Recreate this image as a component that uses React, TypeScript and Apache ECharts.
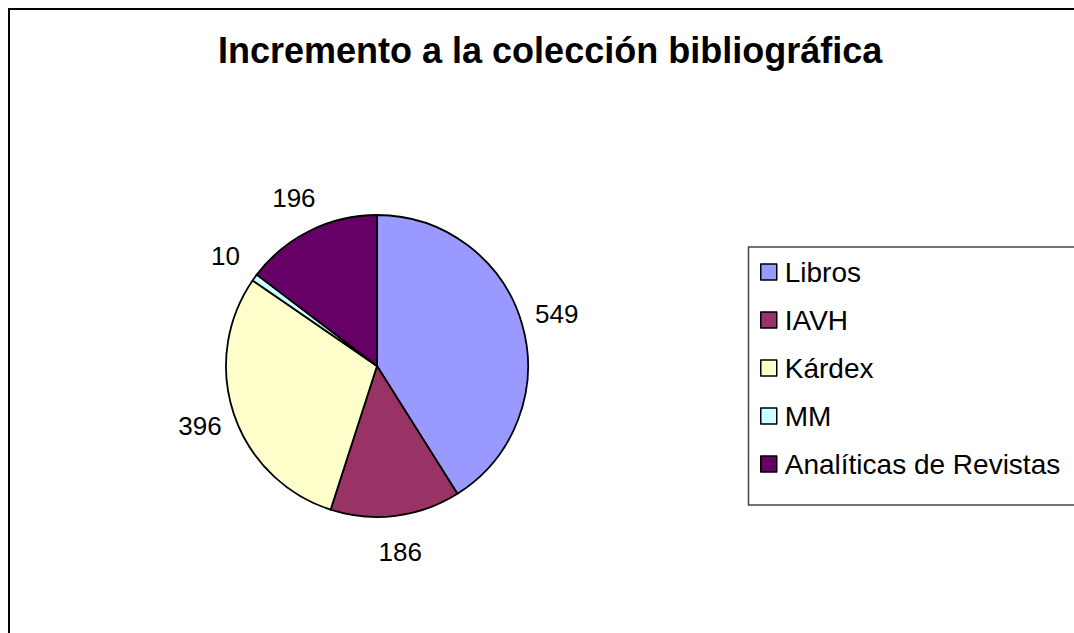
import React, { useEffect, useRef } from "react";
import * as echarts from "echarts";

const titleText = "Incremento a la colección bibliográfica";
const categories = ["Libros", "IAVH", "Kárdex", "MM", "Analíticas de Revistas"];
const values = [549, 186, 396, 10, 196];
const colors = ["#9999FF", "#993366", "#FFFFCC", "#CCFFFF", "#660066"];

const FONT = "'Liberation Sans', Arial, sans-serif";

export default function App() {
  const ref = useRef<HTMLDivElement>(null);

  useEffect(() => {
    if (!ref.current) return;
    const chart = echarts.init(ref.current, undefined, { renderer: "svg" });
    const mainData = categories.map((name, i) => ({
      name,
      value: values[i],
      itemStyle: { color: colors[i] },
    }));
    const labelData = categories.map((name, i) => ({
      name,
      value: values[i],
    }));
    chart.setOption({
      animation: false,
      backgroundColor: "#ffffff",
      title: {
        text: titleText,
        left: 213,
        top: 27,
        textStyle: {
          fontFamily: FONT,
          fontSize: 36,
          fontWeight: "bold",
          color: "#000",
        },
      },
      legend: {
        orient: "vertical",
        left: 748,
        top: 247,
        padding: [11, 12, 26, 12],
        borderWidth: 0,
        itemWidth: 16,
        itemHeight: 16,
        itemGap: 20,
        icon: "rect",
        data: categories.map((name, i) => ({
          name,
          itemStyle: { color: colors[i], borderColor: "#000", borderWidth: 1.5 },
        })),
        textStyle: {
          fontFamily: FONT,
          fontSize: 28,
          lineHeight: 28,
          color: "#000",
          padding: [0, 0, 0, 3],
        },
        selectedMode: false,
      },
      graphic: [
        {
          type: "polyline",
          shape: { points: [[1074, 9], [9, 9], [9, 633]] },
          style: { fill: "none", stroke: "#000", lineWidth: 2 },
          silent: true,
          z: 100,
        },
        {
          type: "polyline",
          shape: { points: [[1074, 247], [748.5, 247], [748.5, 505], [1074, 505]] },
          style: { fill: "none", stroke: "#444", lineWidth: 1.5 },
          silent: true,
          z: 100,
        },
      ],
      series: [
        {
          type: "pie",
          center: [377, 366],
          radius: 151,
          startAngle: 90,
          clockwise: true,
          label: { show: false },
          labelLine: { show: false },
          itemStyle: { borderColor: "#000", borderWidth: 1.8 },
          emphasis: { disabled: true },
          data: mainData,
        },
        {
          type: "pie",
          center: [377, 366],
          radius: [151, 217],
          startAngle: 90,
          clockwise: true,
          silent: true,
          legendHoverLink: false,
          itemStyle: { color: "rgba(0,0,0,0)", borderWidth: 0 },
          label: {
            show: true,
            position: "inside",
            formatter: "{c}",
            fontFamily: FONT,
            fontSize: 26,
            color: "#000",
            rotate: 0,
          },
          labelLine: { show: false },
          emphasis: { disabled: true },
          data: labelData,
        },
      ],
    });
    return () => chart.dispose();
  }, []);

  return (
    <div
      ref={ref}
      style={{ position: "absolute", left: 0, top: 0, width: 1074, height: 633 }}
    />
  );
}
